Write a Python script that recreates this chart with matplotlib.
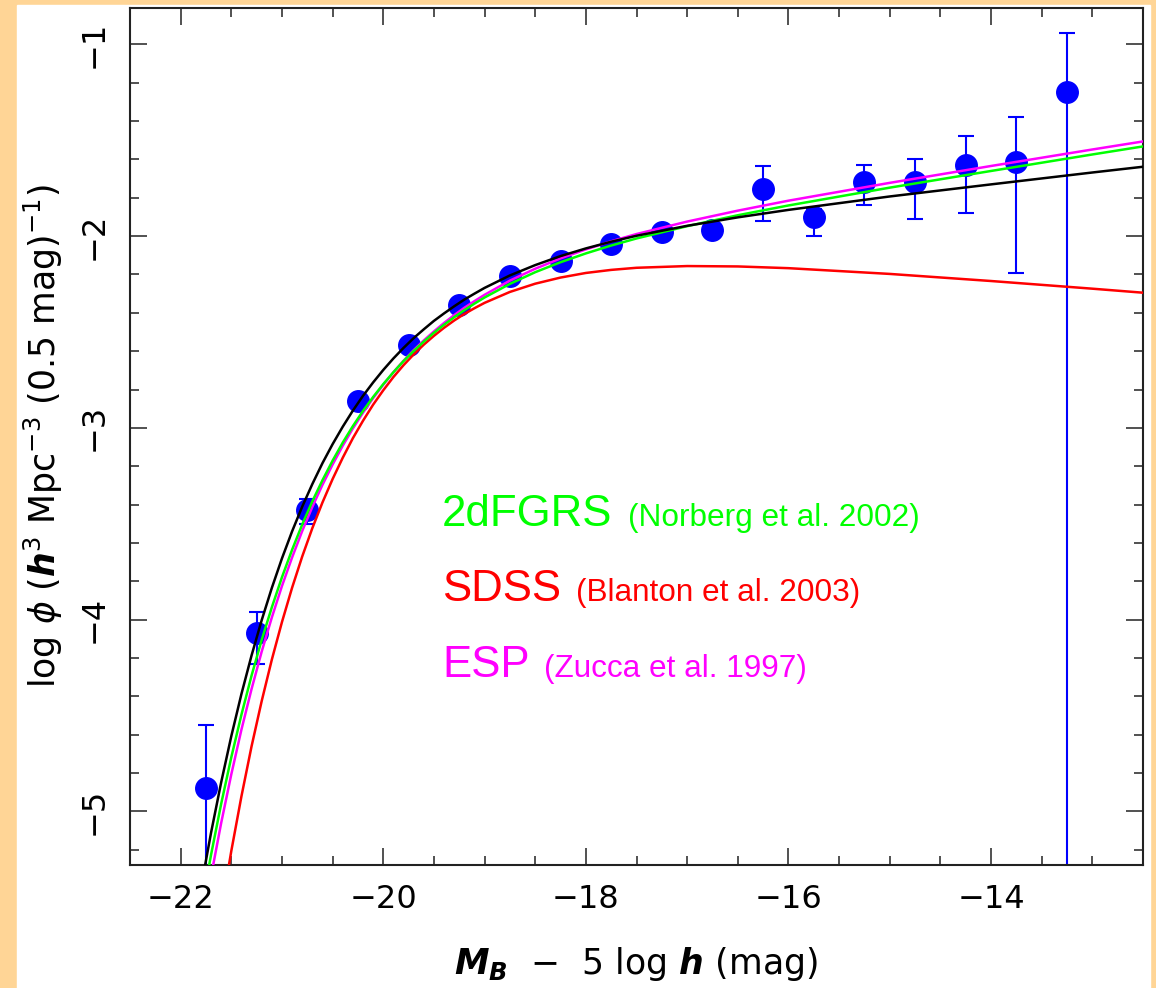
import numpy as np
import matplotlib
matplotlib.use("Agg")
import matplotlib.pyplot as plt
from matplotlib.patches import Rectangle
from matplotlib.ticker import MultipleLocator

# ---- data points (M_B - 5 log h, log phi) with error-bar limits ----
mag = [-21.75, -21.25, -20.75, -20.25, -19.75, -19.25, -18.75, -18.25, -17.75,
       -17.25, -16.75, -16.25, -15.75, -15.25, -14.75, -14.25, -13.75, -13.25]
logphi = [-4.88, -4.07, -3.43, -2.86, -2.57, -2.36, -2.21, -2.13, -2.04,
          -1.98, -1.97, -1.755, -1.90, -1.72, -1.72, -1.63, -1.615, -1.25]
err_top = [-4.55, -3.96, -3.37, -2.83, -2.55, -2.34, -2.19, -2.11, -2.02,
           -1.95, -1.94, -1.635, -1.86, -1.63, -1.60, -1.48, -1.38, -0.94]
err_bot = [-5.60, -4.23, -3.50, -2.89, -2.59, -2.38, -2.23, -2.15, -2.06,
           -2.00, -2.00, -1.92, -2.00, -1.84, -1.91, -1.88, -2.19, -6.00]

# ---- luminosity-function curves ----
curve_mag = [-22.0, -21.9, -21.8, -21.7, -21.6, -21.5, -21.4, -21.3, -21.2, -21.1,
             -21.0, -20.9, -20.8, -20.7, -20.6, -20.5, -20.4, -20.3, -20.2, -20.1,
             -20.0, -19.9, -19.8, -19.7, -19.6, -19.5, -19.4, -19.3, -19.2, -19.1,
             -19.0, -18.75, -18.5, -18.25, -18.0, -17.75, -17.5, -17.0, -16.5, -16.0,
             -15.0, -14.0, -13.0, -12.5]
curve_black = [-6.060, -5.715, -5.400, -5.112, -4.849, -4.608, -4.388, -4.187, -4.003, -3.835,
               -3.681, -3.540, -3.411, -3.293, -3.184, -3.085, -2.994, -2.910, -2.833, -2.763,
               -2.698, -2.638, -2.583, -2.532, -2.486, -2.442, -2.403, -2.366, -2.331, -2.300,
               -2.270, -2.205, -2.151, -2.104, -2.064, -2.029, -1.998, -1.946, -1.902, -1.863,
               -1.793, -1.730, -1.668, -1.638]
curve_2df = [-6.182, -5.835, -5.517, -5.227, -4.961, -4.718, -4.496, -4.292, -4.106, -3.936,
             -3.779, -3.636, -3.504, -3.383, -3.273, -3.171, -3.077, -2.991, -2.912, -2.839,
             -2.772, -2.710, -2.652, -2.599, -2.550, -2.504, -2.462, -2.423, -2.386, -2.352,
             -2.320, -2.249, -2.188, -2.136, -2.090, -2.049, -2.012, -1.948, -1.891, -1.840,
             -1.747, -1.660, -1.574, -1.532]
curve_esp = [-6.338, -5.974, -5.642, -5.339, -5.061, -4.807, -4.574, -4.362, -4.167, -3.989,
             -3.825, -3.676, -3.538, -3.412, -3.297, -3.191, -3.093, -3.003, -2.921, -2.845,
             -2.775, -2.710, -2.650, -2.595, -2.544, -2.497, -2.453, -2.412, -2.374, -2.339,
             -2.306, -2.232, -2.170, -2.116, -2.069, -2.027, -1.989, -1.924, -1.867, -1.815,
             -1.722, -1.634, -1.548, -1.506]
curve_sdss = [-7.113, -6.658, -6.243, -5.865, -5.521, -5.207, -4.922, -4.661, -4.425, -4.209,
              -4.013, -3.834, -3.671, -3.523, -3.389, -3.267, -3.156, -3.054, -2.963, -2.879,
              -2.804, -2.735, -2.673, -2.617, -2.566, -2.520, -2.478, -2.440, -2.406, -2.376,
              -2.348, -2.291, -2.248, -2.216, -2.192, -2.176, -2.165, -2.156, -2.158, -2.167,
              -2.197, -2.234, -2.274, -2.295]

survey_names = ['2dFGRS', 'SDSS', 'ESP']
survey_refs = ['(Norberg et al. 2002)', '(Blanton et al. 2003)', '(Zucca et al. 1997)']
survey_colors = ['#00FF00', '#FF0000', '#FF00FF']

W, H = 1156, 988
fig = plt.figure(figsize=(W / 100, H / 100), dpi=100, facecolor='#FFD596')
fig.patches.append(Rectangle((17 / W, 0), (1150 - 17) / W, (H - 5) / H,
                             transform=fig.transFigure, color='white', zorder=-1))
ax = fig.add_axes([130 / W, (H - 865) / H, (1143 - 130) / W, (865 - 8) / H])

lp = np.array(logphi)
ax.errorbar(mag, logphi, yerr=[lp - np.array(err_bot), np.array(err_top) - lp],
            fmt='o', color='#0000FF', ms=15.5, elinewidth=1.5, capsize=5.5,
            capthick=1.5, zorder=2)
ax.plot(curve_mag, curve_sdss, color='#FF0000', lw=1.8, zorder=3)
ax.plot(curve_mag, curve_esp, color='#FF00FF', lw=1.8, zorder=3)
ax.plot(curve_mag, curve_2df, color='#00FF00', lw=1.8, zorder=3)
ax.plot(curve_mag, curve_black, color='black', lw=1.8, zorder=4)

ax.set_xlim(-22.5, -12.5)
ax.set_ylim(-5.28, -0.81)
ax.xaxis.set_major_locator(MultipleLocator(2))
ax.xaxis.set_minor_locator(MultipleLocator(0.5))
ax.yaxis.set_major_locator(MultipleLocator(1))
ax.yaxis.set_minor_locator(MultipleLocator(0.2))
ax.tick_params(which='both', direction='in', top=True, right=True, width=1.1,
               color='#222222')
ax.tick_params(which='major', length=12.5)
ax.tick_params(which='minor', length=6.5)
ax.tick_params(axis='x', which='major', pad=14, labelsize=23)
ax.tick_params(axis='y', which='major', pad=15, labelsize=23, labelrotation=90)
for lab in ax.get_yticklabels():
    lab.set_verticalalignment('center')
for s in ax.spines.values():
    s.set_linewidth(1.5)
    s.set_color('#222222')

ax.set_xlabel(r'$\mathbfit{M}_{\mathbfit{B}}$  $-$  5 log $\mathbfit{h}$ (mag)', fontsize=25)
ax.set_ylabel(r'log $\phi$ ($\mathbfit{h}^3$ Mpc$^{-3}$ (0.5 mag)$^{-1}$)', fontsize=25)
ax.xaxis.set_label_coords(0.5, -0.093)
ax.yaxis.set_label_coords(-0.064, 0.5)

base_y = [526, 601, 677]
ref_x = [628, 576, 544]
for name, ref, col, by, rx in zip(survey_names, survey_refs, survey_colors, base_y, ref_x):
    fig.text(442 / W, 1 - by / H, name, color=col, fontsize=31.5,
             family='Liberation Sans', va='baseline', ha='left')
    fig.text(rx / W, 1 - by / H, ref, color=col, fontsize=22.7,
             family='Liberation Sans', va='baseline', ha='left')

fig.savefig('out.png', dpi=100, facecolor=fig.get_facecolor())
